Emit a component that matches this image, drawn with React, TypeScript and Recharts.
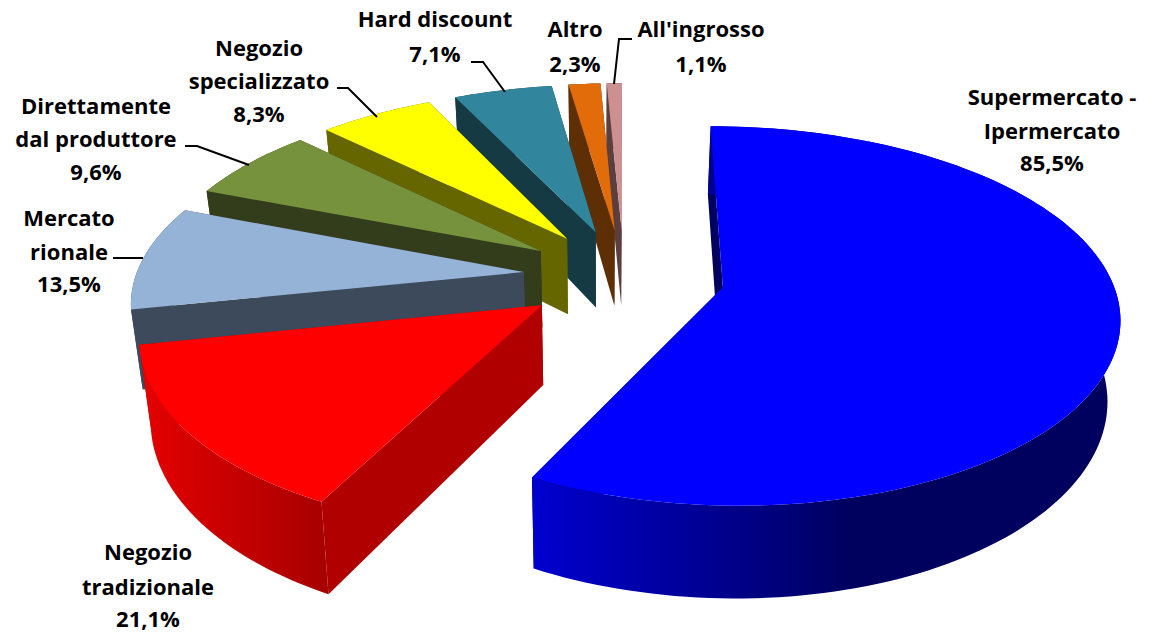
import React from "react";
import { PieChart, Pie } from "recharts";

// Slices are listed back to front so that nearer slices paint over farther ones.
const categories = [
  "All'ingrosso",
  "Altro",
  "Hard discount",
  "Negozio specializzato",
  "Direttamente dal produttore",
  "Mercato rionale",
  "Negozio tradizionale",
  "Supermercato - Ipermercato",
];
const shares = [1.1, 2.3, 7.1, 8.3, 9.6, 13.5, 21.1, 85.5];
const faceColors = ["#cc9090", "#e36c0a", "#31859c", "#ffff00", "#76923c", "#95b3d7", "#ff0000", "#0000ff"];
const wallColors = ["#5c3e3e", "#5e2e04", "#163a44", "#666600", "#333d1c", "#3d4a5c", "#b00000", "#00005e"];
const wallHighlights = ["#5c3e3e", "#5e2e04", "#163a44", "#666600", "#333d1c", "#3d4a5c", "#e60000", "#0000d0"];

const rows = categories.map((name, i) => ({
  name,
  value: shares[i],
  fill: faceColors[i],
  wall: wallColors[i],
  highlight: wallHighlights[i],
}));

// Projection of the tilted disc.
const TILT = 0.469;
const PERSPECTIVE_X = 0.14;
const PERSPECTIVE_Y = 0.15;
const EXPLODE = 0.26;
const DEPTH = 78;
const VANISH_X = 600;
const VANISH_RATE = 0.025;

type Pt = [number, number];
const toPath = (pts: Pt[]) => "M" + pts.map((p) => p[0].toFixed(1) + "," + p[1].toFixed(1)).join("L") + "Z";

function Slice3D(props: any) {
  const { cx, cy, outerRadius, startAngle, endAngle, midAngle, fill, wall, highlight, index } = props;
  const rad = (d: number) => (d * Math.PI) / 180;
  const ex = Math.cos(rad(midAngle)) * EXPLODE;
  const ey = -Math.sin(rad(midAngle)) * EXPLODE;
  const top = (u: number, v: number): Pt => [
    cx + (outerRadius * (u + ex)) / (1 - PERSPECTIVE_X * (v + ey)),
    cy + (outerRadius * TILT * (v + ey)) / (1 - PERSPECTIVE_Y * (v + ey)),
  ];
  const drop = (u: number, v: number): Pt => {
    const [x, y] = top(u, v);
    return [x + (VANISH_X - x) * VANISH_RATE, y + DEPTH / (1 - PERSPECTIVE_Y * (v + ey))];
  };
  const steps = Math.max(4, Math.ceil(Math.abs(endAngle - startAngle) / 1.5));
  const angles = Array.from({ length: steps + 1 }, (_, i) => rad(startAngle + ((endAngle - startAngle) * i) / steps));
  const rim = angles.map((a) => [Math.cos(a), -Math.sin(a)] as Pt);
  const topRim = rim.map(([u, v]) => top(u, v));
  const dropRim = rim.map(([u, v]) => drop(u, v));
  const apex = top(0, 0);
  const apexDrop = drop(0, 0);
  const first = rim[0];
  const last = rim[rim.length - 1];
  const gradientId = "wall-shade-" + index;
  return (
    <g>
      <defs>
        <linearGradient id={gradientId} x1="0" y1="0" x2="1" y2="0">
          <stop offset="0" stopColor={highlight} />
          <stop offset={index === 7 ? 0.55 : 1} stopColor={index === 6 ? "#a60000" : wall} />
        </linearGradient>
      </defs>
      <path d={toPath([apex, top(first[0], first[1]), drop(first[0], first[1]), apexDrop])} fill={wall} />
      <path d={toPath([apex, top(last[0], last[1]), drop(last[0], last[1]), apexDrop])} fill={wall} />
      <path d={toPath([...topRim, ...dropRim.slice().reverse()])} fill={`url(#${gradientId})`} />
      <path d={toPath([apex, ...topRim])} fill={fill} />
    </g>
  );
}

const labelLayout: Record<string, { x: number; lines: string[]; y: number[]; leader?: Pt[] }> = {
  "All'ingrosso": { x: 701, lines: ["All'ingrosso"], y: [37, 72], leader: [[632, 39], [619, 39], [614, 84]] },
  Altro: { x: 575, lines: ["Altro"], y: [37, 72] },
  "Hard discount": { x: 435, lines: ["Hard discount"], y: [27, 62], leader: [[471, 62], [483, 62], [505, 92]] },
  "Negozio specializzato": { x: 259, lines: ["Negozio", "specializzato"], y: [56, 89, 122], leader: [[337, 88], [348, 88], [377, 117]] },
  "Direttamente dal produttore": { x: 96, lines: ["Direttamente", "dal produttore"], y: [114, 147, 180], leader: [[185, 146], [197, 146], [249, 165]] },
  "Mercato rionale": { x: 69, lines: ["Mercato", "rionale"], y: [226, 260, 292], leader: [[113, 258], [143, 258]] },
  "Negozio tradizionale": { x: 148, lines: ["Negozio", "tradizionale"], y: [560, 595, 627] },
  "Supermercato - Ipermercato": { x: 1052, lines: ["Supermercato -", "Ipermercato"], y: [105, 139, 171] },
};

function SliceLabel(props: any) {
  const { name, value } = props;
  const layout = labelLayout[name];
  const text = [...layout.lines, value.toFixed(1).replace(".", ",") + "%"];
  return (
    <g>
      {layout.leader && (
        <polyline
          points={layout.leader.map((p) => p.join(",")).join(" ")}
          fill="none"
          stroke="#000"
          strokeWidth={2}
        />
      )}
      {text.map((line, i) => (
        <text
          key={line}
          x={layout.x}
          y={layout.y[i]}
          textAnchor="middle"
          fontFamily="'Open Sans', sans-serif"
          fontWeight={700}
          fontSize={22}
          fill="#000"
        >
          {line}
        </text>
      ))}
    </g>
  );
}

export default function App() {
  return (
    <div style={{ position: "absolute", left: 0, top: 0, width: 1153, height: 632, background: "#fff" }}>
      <PieChart width={1153} height={632} margin={{ top: 0, right: 0, bottom: 0, left: 0 }}>
        <Pie
          data={rows}
          dataKey="value"
          nameKey="name"
          cx={624}
          cy={276}
          innerRadius={0}
          outerRadius={388}
          startAngle={90}
          endAngle={450}
          stroke="none"
          shape={Slice3D}
          label={SliceLabel}
          labelLine={false}
          isAnimationActive={false}
        />
      </PieChart>
    </div>
  );
}
